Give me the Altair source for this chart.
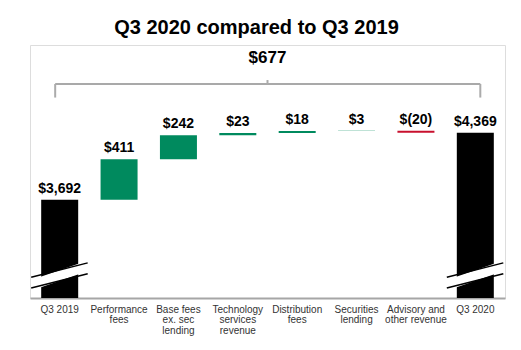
import altair as alt
import pandas as pd

# ---- data ----
categories = ["Q3 2019", "Performance|fees", "Base fees|ex. sec|lending",
              "Technology|services|revenue", "Distribution|fees",
              "Securities|lending", "Advisory and|other revenue", "Q3 2020"]
values = [3692, 411, 242, 23, 18, 3, -20, 4369]
kinds = ["total", "up", "up", "up", "up", "up", "down", "total"]
value_labels = ["$3,692", "$411", "$242", "$23", "$18", "$3", "$(20)", "$4,369"]
change_label = "$677"

# broken y axis: bars start at this value
AXIS_FLOOR = 2700
AXIS_TOP = 5256

# annotation levels (data units)
BRACKET_Y = 4862
BRACKET_END_Y = 4725
BRACKET_TICK_Y = 4902
CHANGE_LABEL_Y = 5074
BREAK_HI = (2910, 3055)
BREAK_LO = (2800, 2945)

rows = []
running = 0
for cat, v, k, lab in zip(categories, values, kinds, value_labels):
    if k == "total":
        start, end = AXIS_FLOOR, v
        running = v
    else:
        start, end = running, running + v
        running = end
    rows.append(dict(cat=cat, start=start, end=end, kind=k, label=lab,
                     top=max(start, end)))
df = pd.DataFrame(rows)

totals = df[df.kind == "total"].copy()
totals["hi_l"], totals["hi_r"] = BREAK_HI
totals["lo_l"], totals["lo_r"] = BREAK_LO
totals["mid_l"] = (BREAK_HI[0] + BREAK_LO[0]) / 2
totals["mid_r"] = (BREAK_HI[1] + BREAK_LO[1]) / 2

W, H = 475, 253
FONT = "Liberation Sans"

xscale = alt.Scale(domain=categories, paddingInner=0, paddingOuter=0)
yscale = alt.Scale(domain=[AXIS_FLOOR, AXIS_TOP], nice=False, zero=False)

x_enc = alt.X("cat:N", scale=xscale, sort=categories,
              axis=alt.Axis(title=None, labelAngle=0, ticks=False,
                            domainColor="#a6a6a6", domainWidth=2,
                            labelFont=FONT, labelFontSize=10,
                            labelColor="#333333", labelPadding=6,
                            labelLineHeight=10.5, labelLimit=0,
                            labelExpr="split(datum.label, '|')"))
y_none = alt.Axis(title=None, labels=False, ticks=False, domain=False, grid=False)

base = alt.Chart(df)

bars = base.mark_bar(size=37).encode(
    x=x_enc,
    y=alt.Y("start:Q", scale=yscale, axis=y_none),
    y2="end:Q",
    color=alt.Color("kind:N", legend=None,
                    scale=alt.Scale(domain=["total", "up", "down"],
                                    range=["#000000", "#008A5E", "#C8102E"])),
)

labels = base.mark_text(font=FONT, fontSize=14, fontWeight="bold",
                        baseline="bottom", dy=-4, color="#000000").encode(
    x=alt.X("cat:N", scale=xscale, sort=categories),
    y=alt.Y("top:Q", scale=yscale),
    text="label:N",
)

tb = alt.Chart(totals)
band = tb.mark_rule(color="white", strokeWidth=10, strokeCap="butt",
                    xOffset=-21, x2Offset=21).encode(
    x=alt.X("cat:N", scale=xscale, sort=categories), x2="cat:N",
    y=alt.Y("mid_l:Q", scale=yscale), y2="mid_r:Q")
hi = tb.mark_rule(color="black", strokeWidth=1.5,
                  xOffset=-28.5, x2Offset=28).encode(
    x=alt.X("cat:N", scale=xscale, sort=categories), x2="cat:N",
    y=alt.Y("hi_l:Q", scale=yscale), y2="hi_r:Q")
lo = tb.mark_rule(color="black", strokeWidth=1.5,
                  xOffset=-28.5, x2Offset=28).encode(
    x=alt.X("cat:N", scale=xscale, sort=categories), x2="cat:N",
    y=alt.Y("lo_l:Q", scale=yscale), y2="lo_r:Q")

# bracket across all bars
br = pd.DataFrame([dict(a=categories[0], b=categories[-1], y=BRACKET_Y,
                        yend=BRACKET_END_Y, ytick=BRACKET_TICK_Y,
                        ylab=CHANGE_LABEL_Y, label=change_label)])
bc = alt.Chart(br)
bracket_h = bc.mark_rule(color="#8c8c8c", strokeWidth=1.5,
                         xOffset=-4.5, x2Offset=5).encode(
    x=alt.X("a:N", scale=xscale, sort=categories), x2="b:N",
    y=alt.Y("y:Q", scale=yscale))
bracket_l = bc.mark_rule(color="#ababab", strokeWidth=2, xOffset=-4.5).encode(
    x=alt.X("a:N", scale=xscale, sort=categories),
    y=alt.Y("y:Q", scale=yscale), y2="yend:Q")
bracket_r = bc.mark_rule(color="#ababab", strokeWidth=2, xOffset=5).encode(
    x=alt.X("b:N", scale=xscale, sort=categories),
    y=alt.Y("y:Q", scale=yscale), y2="yend:Q")
bracket_t = bc.mark_rule(color="#ababab", strokeWidth=2).encode(
    x=alt.value(W / 2),
    y=alt.Y("y:Q", scale=yscale), y2="ytick:Q")
change_txt = bc.mark_text(font=FONT, fontSize=17, fontWeight="bold",
                          baseline="alphabetic", color="#000000").encode(
    x=alt.value(W / 2),
    y=alt.Y("ylab:Q", scale=yscale),
    text="label:N")

chart = alt.layer(
    bars, band, hi, lo, labels,
    bracket_h, bracket_l, bracket_r, bracket_t, change_txt,
).properties(
    width=W, height=H,
    title=alt.Title("Q3 2020 compared to Q3 2019", font=FONT, fontSize=20,
                    fontWeight="bold", color="#000000", anchor="middle",
                    dx=-11, offset=7),
    autosize=alt.AutoSizeParams(type="none"),
    padding={"left": 30, "right": 16, "top": 45, "bottom": 52},
).configure_view(stroke=None).configure(background="white")

chart.save("out.html", embed_options={"renderer": "svg", "actions": False})
